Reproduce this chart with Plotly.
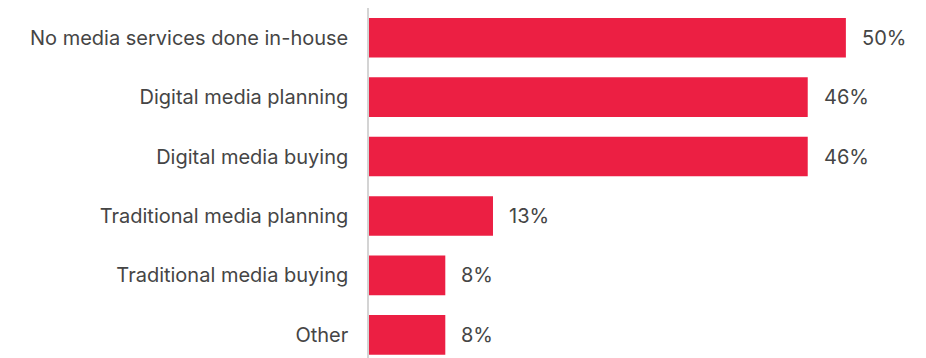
import plotly.graph_objects as go

categories = [
    "No media services done in-house",
    "Digital media planning",
    "Digital media buying",
    "Traditional media planning",
    "Traditional media buying",
    "Other",
]
values = [50, 46, 46, 13, 8, 8]

BAR_COLOR = "#EC1F43"
TEXT_COLOR = "#454545"
FONT = "Inter, Lato, sans-serif"
FONT_SIZE = 20

positions = list(range(len(categories)))

fig = go.Figure(
    go.Bar(
        x=values,
        y=positions,
        orientation="h",
        width=0.667,
        marker=dict(color=BAR_COLOR, line=dict(width=0)),
        hoverinfo="skip",
    )
)

for pos, val in zip(positions, values):
    fig.add_annotation(
        x=val,
        y=pos,
        text=f"{val}%",
        xanchor="left",
        yanchor="middle",
        xshift=14,
        showarrow=False,
        font=dict(family=FONT, size=FONT_SIZE, color=TEXT_COLOR),
    )

fig.update_layout(
    width=926,
    height=358,
    margin=dict(l=369, r=0, t=8, b=0),
    paper_bgcolor="white",
    plot_bgcolor="white",
    showlegend=False,
    font=dict(family=FONT, size=FONT_SIZE, color=TEXT_COLOR),
    xaxis=dict(
        range=[0, 58.4],
        visible=False,
        fixedrange=True,
    ),
    yaxis=dict(
        range=[5.39, -0.5],
        tickvals=positions,
        ticktext=categories,
        showline=True,
        linecolor="#d4d4d4",
        linewidth=1.5,
        showgrid=False,
        zeroline=False,
        ticks="outside",
        ticklen=15,
        tickcolor="rgba(0,0,0,0)",
        tickfont=dict(family=FONT, size=FONT_SIZE, color=TEXT_COLOR),
        fixedrange=True,
    ),
)

fig.write_html("out.html")
